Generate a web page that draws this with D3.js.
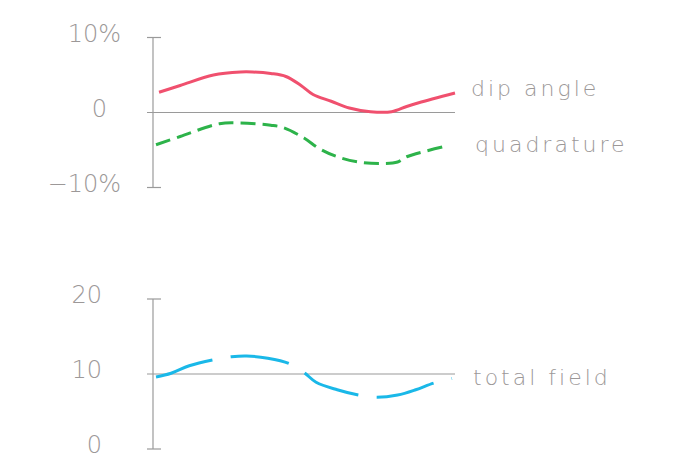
<!DOCTYPE html>
<html>
<head>
<meta charset="utf-8">
<script src="https://cdn.jsdelivr.net/npm/d3@7"></script>
<style>
  body { margin: 0; background: #fff; }
  text { font-family: "DejaVu Sans", sans-serif; font-weight: 200; fill: #9c9898; }
</style>
</head>
<body>
<svg width="680" height="471"></svg>
<script>
// station positions (0..100 along the profile) and readings
var dipX   = [2, 9, 20, 29, 33, 39, 44, 49, 53, 59, 65, 72, 79, 84, 88, 100];
var dipY   = [2.7, 3.6, 5.0, 5.4, 5.4, 5.2, 4.8, 3.6, 2.4, 1.5, 0.6, 0.1, 0.1, 0.8, 1.3, 2.6];
var quadX  = [1, 9, 22, 29, 39, 43, 50, 55, 61, 68, 75, 81, 84, 98];
var quadY  = [-4.3, -3.2, -1.5, -1.4, -1.7, -2.0, -3.4, -4.8, -5.9, -6.6, -6.8, -6.6, -5.9, -4.4];
var totX   = [1, 6, 12, 20, 26, 31, 38, 45, 50, 54, 61, 68, 74, 81, 87, 93, 99];
var totY   = [9.6, 10.1, 11.1, 11.9, 12.3, 12.4, 12.1, 11.4, 10.2, 8.9, 7.9, 7.2, 6.9, 7.2, 7.9, 8.8, 9.4];
var topTicks = [-10, 0, 10];
var topTickLabels = ["\u221210%", "0", "10%"];
var botTicks = [0, 10, 20];
var botTickLabels = ["0", "10", "20"];

var svg = d3.select("svg");
var axisX = 153;

var x = d3.scaleLinear().domain([0, 100]).range([axisX, 455]);
var yTop = d3.scaleLinear().domain([-10, 10]).range([187.5, 37.5]);
var yBot = d3.scaleLinear().domain([0, 20]).range([449, 299]);

function drawAxis(y, ticks, labels, baseVal, labelRight) {
  var g = svg.append("g");
  g.append("line")
      .attr("x1", axisX).attr("x2", axisX)
      .attr("y1", y(d3.min(ticks))).attr("y2", y(d3.max(ticks)))
      .attr("stroke", "#9a9a9a").attr("stroke-width", 1.2);
  g.selectAll(".cap").data(ticks).enter().append("line")
      .attr("x1", axisX - 6)
      .attr("x2", d => d == baseVal ? x(100) : axisX + 8)
      .attr("y1", d => y(d)).attr("y2", d => y(d))
      .attr("stroke", "#9a9a9a").attr("stroke-width", 1.2);
  g.selectAll("text").data(ticks).enter().append("text")
      .attr("x", (d, i) => labelRight - (labels[i].indexOf("%") < 0 && labelRight > 110 ? 14 : 0))
      .attr("y", d => y(d) + 4)
      .attr("text-anchor", "end")
      .style("font-size", "24px")
      .text((d, i) => labels[i]);
}

drawAxis(yTop, topTicks, topTickLabels, 0, 121);
drawAxis(yBot, botTicks, botTickLabels, 10, 102);

function series(xs, ys, y, color, dash) {
  var pts = xs.map((v, i) => [x(v), y(ys[i])]);
  var line = d3.line().curve(d3.curveCatmullRom.alpha(0.5));
  svg.append("path")
      .attr("d", line(pts))
      .attr("fill", "none")
      .attr("stroke", color)
      .attr("stroke-width", 3)
      .attr("stroke-dasharray", dash);
}

series(dipX, dipY, yTop, "#f0506e", null);
series(quadX, quadY, yTop, "#2db34a", "15,7");
series(totX, totY, yBot, "#1ab8e8", "59,18.5");

var names = [
  {t: "dip angle", x: 471, y: 96},
  {t: "quadrature", x: 475, y: 152},
  {t: "total field", x: 473, y: 385}
];
svg.selectAll(".lbl").data(names).enter().append("text")
    .attr("x", d => d.x).attr("y", d => d.y)
    .style("font-size", "22px")
    .style("letter-spacing", "3px")
    .text(d => d.t);
</script>
</body>
</html>
